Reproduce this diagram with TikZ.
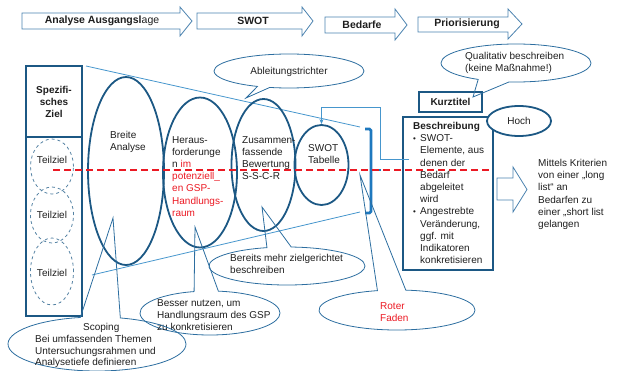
\documentclass[tikz,border=0pt]{standalone}
\usepackage{fontspec}
\setmainfont{Liberation Sans}
\usetikzlibrary{shapes.geometric,shapes.callouts,arrows.meta}
\definecolor{dblue}{RGB}{28,88,132}
\definecolor{cblue}{RGB}{45,110,160}
\definecolor{lblue}{RGB}{70,150,205}
\definecolor{ablue}{RGB}{75,130,175}
\definecolor{bblue}{RGB}{30,120,190}
\definecolor{tred}{RGB}{235,25,35}
\definecolor{txtc}{RGB}{30,30,30}
\begin{document}
\begin{tikzpicture}[x=1pt,y=-1pt,
  txt/.style={font=\fontsize{10}{12.2}\selectfont, text=txtc, inner sep=0pt, align=left, anchor=north west},
  ptxt/.style={font=\bfseries\fontsize{10.5}{12}\selectfont, text=txtc, inner sep=0pt},
  bigell/.style={ellipse, draw=dblue, line width=1.8pt, inner sep=0pt},
  callout/.style={ellipse callout, draw=cblue, line width=0.8pt, inner sep=0pt},
  tzell/.style={ellipse, draw=dblue!75, dashed, line width=0.8pt, inner sep=0pt, minimum width=43pt},
  phase/.style={draw=ablue, line width=0.8pt},
  boxb/.style={draw=dblue, line width=2.2pt, inner sep=0pt},
]
\useasboundingbox (0,0) rectangle (630,370);

% phase arrows
\draw[phase] (22,13) -- (180,13) -- (180,7) -- (192,21) -- (180,36) -- (180,29) -- (22,29) -- cycle;
\node[ptxt] (p1) at (102,21) {Analyse Ausgangsl\mdseries age};
\draw[phase] (197,13) -- (302,13) -- (302,7) -- (313,21) -- (302,36) -- (302,29) -- (197,29) -- cycle;
\node[ptxt] (p2) at (253,21) {SWOT};
\draw[phase] (325,17) -- (395,17) -- (395,9) -- (407,25) -- (395,40) -- (395,33) -- (325,33) -- cycle;
\node[ptxt] (p3) at (362,25) {Bedarfe};
\draw[phase] (418,17) -- (508,17) -- (508,9) -- (522,24) -- (508,39) -- (508,32) -- (418,32) -- cycle;
\node[ptxt] (p4) at (467,24) {Priorisierung};

% left box
\node[boxb, minimum width=56pt, minimum height=250pt] (lbox) at (54,191) {};
\node[boxb, minimum width=56pt, minimum height=71pt, align=center, font=\bfseries\fontsize{10}{12}\selectfont, text=txtc] (ziel) at (54,101.5) {Spezifi-\\sches\\Ziel};
\node[tzell, minimum height=55pt] (tz1) at (52,166.5) {};
\node[tzell, minimum height=56pt] (tz2) at (52,215) {};
\node[tzell, minimum height=67pt] (tz3) at (52,271.5) {};
\node[txt, anchor=center] (tz1t) at (52,160) {Teilziel};
\node[txt, anchor=center] (tz2t) at (52,215) {Teilziel};
\node[txt, anchor=center] (tz3t) at (52,273) {Teilziel};

% funnel lines
\coordinate (f1) at (86,66);
\coordinate (f2) at (360,127);
\coordinate (f3) at (92,275);
\coordinate (f4) at (360,212);
\draw[lblue, line width=0.8pt] (f1) -- (f2);
\draw[lblue, line width=0.8pt] (f3) -- (f4);

% big ellipses
\node[bigell, minimum width=76pt, minimum height=188pt] (e1) at (126,171) {};
\node[bigell, minimum width=74pt, minimum height=150pt] (e2) at (200,172.5) {};
\node[bigell, minimum width=64pt, minimum height=132pt] (e3) at (263.5,165) {};
\node[bigell, minimum width=54pt, minimum height=80pt] (e4) at (321.5,165) {};

\node[txt] (e1t) at (110,131) {Breite\\Analyse};
\node[txt] (e2t) at (172,136) {Heraus-\\forderunge\\n \textcolor{tred}{im}\\\textcolor{tred}{potenziell\_}\\\textcolor{tred}{en GSP-}\\\textcolor{tred}{Handlungs-}\\\textcolor{tred}{raum}};
\node[txt] (e3t) at (242,136) {Zusammen-\\fassende\\Bewertung\\S-S-C-R};
\node[txt] (e4t) at (308,144) {SWOT\\Tabelle};

% bracket
\draw[bblue, line width=2.6pt, rounded corners=1.5pt] (365,129) -- (371,129) -- (371,213) -- (365,213);
\coordinate (bm) at (371,170);
\coordinate (bt) at (381,170);
\draw[bblue, line width=2.6pt] (bm) -- (bt);

% red dashed line
\coordinate (r1) at (53,170);
\coordinate (r2) at (492,170);
\draw[tred, line width=1.4pt, dash pattern=on 7pt off 4pt] (r1) -- (r2);

% right boxes
\node[boxb, minimum width=63pt, minimum height=20pt, font=\bfseries\fontsize{10}{12}\selectfont, text=txtc] (kurz) at (450.5,102) {Kurztitel};
\node[boxb, minimum width=90pt, minimum height=153pt] (besch) at (448,193.5) {};
\node[txt] (bescht) at (413,122) {\textbf{Beschreibung}\\
\makebox[7pt][l]{\footnotesize•}SWOT-\\
\makebox[7pt]{}Elemente, aus\\
\makebox[7pt]{}denen der\\
\makebox[7pt]{}Bedarf\\
\makebox[7pt]{}abgeleitet\\
\makebox[7pt]{}wird\\
\makebox[7pt][l]{\footnotesize•}Angestrebte\\
\makebox[7pt]{}Veränderung,\\
\makebox[7pt]{}ggf. mit\\
\makebox[7pt]{}Indikatoren\\
\makebox[7pt]{}konkretisieren};
\node[ellipse, draw=dblue, fill=white, line width=1.8pt, minimum width=64pt, minimum height=30pt, inner sep=0pt, font=\fontsize{10}{12}\selectfont, text=txtc] (hoch) at (519,121) {Hoch};

% connector from Beschreibung to SWOT table
\coordinate (c0) at (409,159);
\coordinate (c1) at (380,159);
\coordinate (c2) at (380,107);
\coordinate (c3) at (e4.north |- c2);
\draw[lblue, line width=0.8pt, -{Stealth[length=5pt,width=4pt]}] (c0) -- (c1) -- (c2) -- (c3) -- (e4.north);

% right arrow and text
\draw[phase] (497,178) -- (513,178) -- (513,167) -- (527,189.5) -- (513,212) -- (513,200) -- (497,200) -- cycle;
\node[txt] (rt) at (538,159) {Mittels Kriterien\\von einer „long\\list“ an\\Bedarfen zu\\einer „short list\\gelangen};

% callouts
\node[callout, minimum width=150pt, minimum height=34pt, callout absolute pointer={(246,98)}, callout pointer arc=10] (abl) at (289,71) {};
\node[txt, anchor=center] (ablt) at (289,72) {Ableitungstrichter};

\node[callout, minimum width=150pt, minimum height=38pt, callout absolute pointer={(473,97)}, callout pointer arc=25] (qual) at (516,63) {};
\node[txt] (qualt) at (465,52) {Qualitativ beschreiben\\(keine Maßnahme!)};

\node[callout, minimum width=156pt, minimum height=38pt, callout absolute pointer={(262,207)}, callout pointer arc=18] (ber) at (287,266) {};
\node[txt] (bert) at (230,254) {Bereits mehr zielgerichtet\\beschreiben};

\node[callout, minimum width=140pt, minimum height=44pt, callout absolute pointer={(195,227)}, callout pointer arc=20] (bes) at (210,313) {};
\node[txt] (best) at (157,299) {Besser nutzen, um\\Handlungsraum des GSP\\zu konkretisieren};

\node[callout, minimum width=178pt, minimum height=54pt, callout absolute pointer={(113,218)}, callout pointer arc=26] (scop) at (97,344) {};
\node[txt, font=\fontsize{10}{11.8}\selectfont] (scopt) at (35,323) {\hspace*{48pt}Scoping\\Bei umfassenden Themen\\Untersuchungsrahmen und\\Analysetiefe definieren};

\node[callout, minimum width=156pt, minimum height=40pt, callout absolute pointer={(360,175)}, callout pointer arc=21] (rot) at (397,310) {};
\node[txt, text=tred] (rott) at (380,302) {Roter\\Faden};
\end{tikzpicture}
\end{document}
